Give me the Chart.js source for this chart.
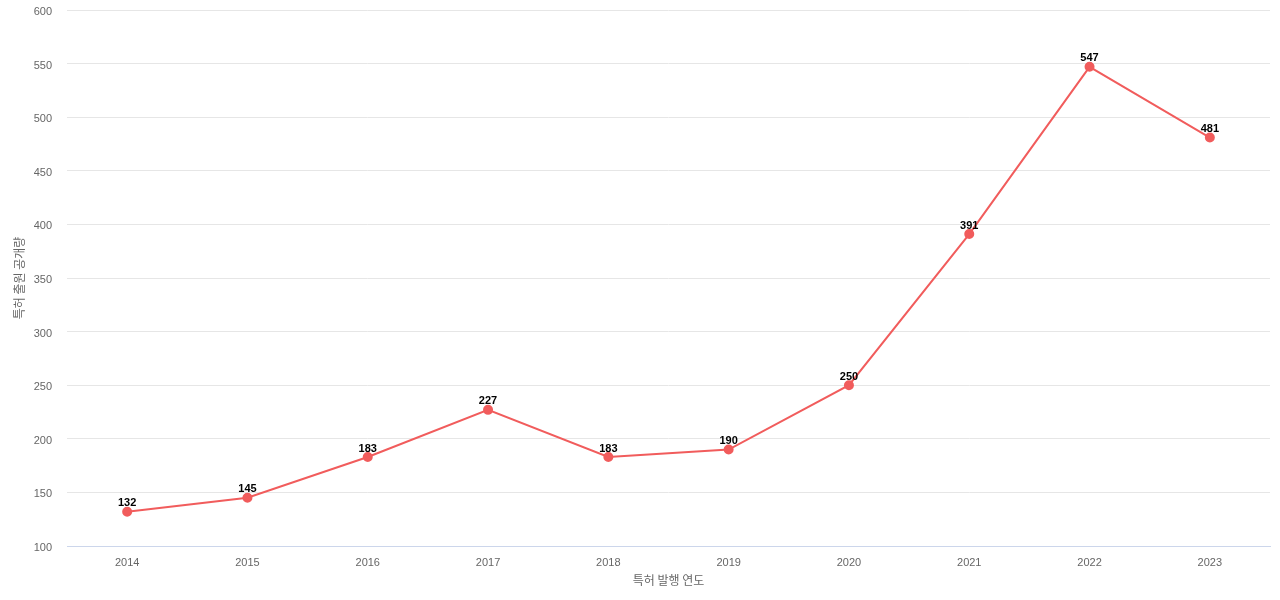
<!DOCTYPE html>
<html>
<head>
<meta charset="utf-8">
<script src="https://cdn.jsdelivr.net/npm/chart.js@4"></script>
<style>
  html, body { margin: 0; padding: 0; background: #fff; }
  #wrap { width: 1280px; height: 600px; }
</style>
</head>
<body>
<div id="wrap"><canvas id="myChart" width="1280" height="600"></canvas></div>
<script>
// 데이터
const years = ["2014", "2015", "2016", "2017", "2018", "2019", "2020", "2021", "2022", "2023"];
const counts = [132, 145, 183, 227, 183, 190, 250, 391, 547, 481];
const yTicks = [100, 150, 200, 250, 300, 350, 400, 450, 500, 550, 600];

const lineColor = '#f15c5c';

// 점 위에 값 표시
const valueLabels = {
    id: 'valueLabels',
    afterDatasetsDraw(chart) {
        const ctx = chart.ctx;
        const meta = chart.getDatasetMeta(0);
        ctx.save();
        ctx.font = 'bold 11px "Liberation Sans", Arial, sans-serif';
        ctx.fillStyle = '#000';
        ctx.textAlign = 'center';
        ctx.textBaseline = 'bottom';
        meta.data.forEach(function (pt, i) {
            ctx.fillText(chart.data.datasets[0].data[i], pt.x, pt.y - 3);
        });
        ctx.restore();
    }
};

Chart.defaults.font.family = '"Liberation Sans", Arial, "Noto Sans CJK KR", sans-serif';

const ctx = document.getElementById('myChart').getContext('2d');
new Chart(ctx, {
    type: 'line',
    data: {
        labels: years,
        datasets: [{
            data: counts,
            borderColor: lineColor,
            backgroundColor: lineColor,
            borderWidth: 2,
            pointRadius: 4,
            pointHoverRadius: 5,
            tension: 0
        }]
    },
    options: {
        responsive: false,
        animation: false,
        layout: { padding: { top: 10, right: 10, left: 0, bottom: 0 } },
        plugins: {
            legend: { display: false },
            tooltip: { enabled: false }
        },
        scales: {
            x: {
                offset: true,
                grid: { display: false, drawTicks: false },
                border: { color: '#ccd6eb' },
                ticks: { color: '#666', font: { size: 11 }, padding: 10 },
                title: {
                    display: true,
                    text: '특허 발행 연도',
                    color: '#666',
                    font: { size: 12, family: '"Noto Sans CJK KR", sans-serif' },
                    padding: { top: 0, bottom: 12 }
                },
                afterFit: function (axis) {
                    axis.height = 54;
                    axis.paddingLeft = 0;
                    axis.paddingRight = 0;
                }
            },
            y: {
                min: 100,
                max: 600,
                afterBuildTicks: function (axis) {
                    axis.ticks = yTicks.map(function (v) { return { value: v }; });
                },
                grid: { color: '#e6e6e6', drawTicks: false },
                border: { display: false },
                ticks: { color: '#666', font: { size: 11 }, padding: 15, labelOffset: 2 },
                title: {
                    display: true,
                    text: '특허 출원 공개량',
                    color: '#666',
                    font: { size: 12, family: '"Noto Sans CJK KR", sans-serif' },
                    padding: { top: 12, bottom: 0 }
                },
                afterFit: function (axis) {
                    axis.width = 67;
                    axis.paddingTop = 0;
                    axis.paddingBottom = 0;
                }
            }
        }
    },
    plugins: [valueLabels]
});
</script>
</body>
</html>
